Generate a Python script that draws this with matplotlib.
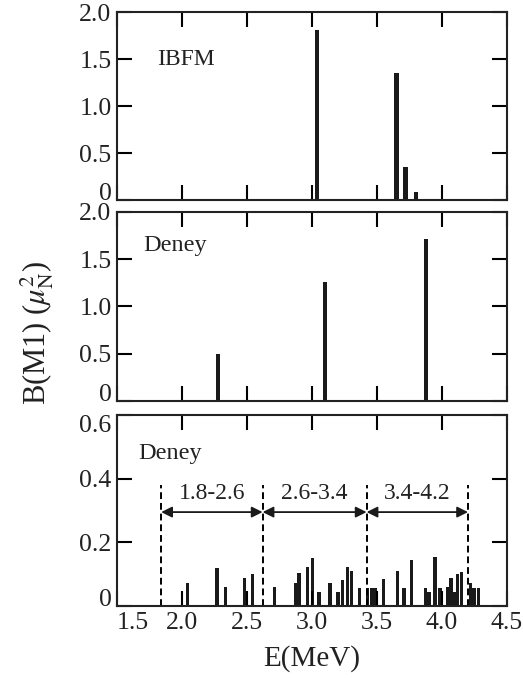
import numpy as np
import matplotlib
matplotlib.use('Agg')
import matplotlib.pyplot as plt

plt.rcParams['font.family'] = ['Liberation Serif', 'DejaVu Serif']
plt.rcParams['mathtext.fontset'] = 'stix'

# IBFM panel
ibfm_e = [3.04, 3.65, 3.72, 3.80]
ibfm_b = [1.81, 1.35, 0.35, 0.09]

# Deney panel (strong lines)
deney_e = [2.28, 3.10, 3.88]
deney_b = [0.50, 1.26, 1.71]

# Deney panel (fragmented strength)
frag_e = [2.044, 2.27, 2.333, 2.48, 2.544, 2.71, 2.875, 2.90, 2.964, 3.003,
          3.054, 3.138, 3.20, 3.233, 3.275, 3.305, 3.364, 3.428, 3.459, 3.485,
          3.548, 3.659, 3.708, 3.767, 3.872, 3.90, 3.946, 3.985, 4.044, 4.069,
          4.095, 4.118, 4.15, 4.22, 4.246, 4.28]
frag_b = [0.073, 0.120, 0.061, 0.087, 0.100, 0.061, 0.071, 0.103, 0.124, 0.152,
          0.045, 0.073, 0.045, 0.082, 0.123, 0.110, 0.056, 0.056, 0.056, 0.056,
          0.084, 0.110, 0.056, 0.143, 0.056, 0.045, 0.153, 0.056, 0.061, 0.087,
          0.045, 0.100, 0.108, 0.071, 0.056, 0.056]

bounds = [1.84, 2.62, 3.42, 4.20]
ranges = ['1.8-2.6', '2.6-3.4', '3.4-4.2']

xticks = [1.5, 2.0, 2.5, 3.0, 3.5, 4.0, 4.5]
xticklabels = ['1.5', '2.0', '2.5', '3.0', '3.5', '4.0', '4.5']
yticks_big = [0, 0.5, 1.0, 1.5, 2.0]
ylabels_big = ['0', '0.5', '1.0', '1.5', '2.0']
yticks_small = [0, 0.2, 0.4, 0.6]
ylabels_small = ['0', '0.2', '0.4', '0.6']

txt = '#222222'

fig = plt.figure(figsize=(5.23, 6.78), dpi=100)
ax1 = fig.add_axes([0.2237, 0.705, 0.7457, 0.2773])
ax2 = fig.add_axes([0.2237, 0.4086, 0.7457, 0.2788])
ax3 = fig.add_axes([0.2237, 0.1062, 0.7457, 0.2817])

for ax in (ax1, ax2, ax3):
    ax.set_xlim(1.5, 4.5)
    ax.set_xticks(xticks)
    ax.tick_params(direction='in', length=11, width=1.5, top=True, right=True,
                   labelsize=18.5, pad=4, labelcolor=txt)
    for s in ax.spines.values():
        s.set_linewidth(1.5)
        s.set_color('#222222')

for ax in (ax1, ax2):
    ax.set_ylim(0, 2.0)
    ax.set_yticks(yticks_big)
    ax.set_yticklabels(ylabels_big)
    ax.set_xticklabels([])

ax3.set_ylim(0, 0.6)
ax3.set_yticks(yticks_small)
ax3.set_yticklabels(ylabels_small)
ax3.set_xticklabels(xticklabels)

# keep the labels at the panel joins apart
for ax in (ax1, ax2, ax3):
    labs = ax.get_yticklabels()
    labs[0].set_verticalalignment('baseline')
ax3.get_yticklabels()[-1].set_verticalalignment('top')
ax3.get_xticklabels()[0].set_horizontalalignment('left')

ax1.bar(ibfm_e, ibfm_b, width=0.035, color='#1a1a1a')
ax1.text(1.81, 1.49, 'IBFM', fontsize=17, va='center', color=txt)

ax2.bar(deney_e, deney_b, width=0.032, color='#1a1a1a')
ax2.text(1.70, 1.64, 'Deney', fontsize=17.5, va='center', color=txt)

ax3.bar(frag_e, frag_b, width=0.025, color='#1a1a1a')
ax3.text(1.66, 0.48, 'Deney', fontsize=17.5, va='center', color=txt)

for b in bounds:
    ax3.plot([b, b], [0, 0.38], color='black', lw=1.4, linestyle=(0, (3.5, 2)))
for i, lab in enumerate(ranges):
    ax3.annotate('', xy=(bounds[i], 0.295), xytext=(bounds[i + 1], 0.295),
                 arrowprops=dict(arrowstyle='<|-|>', color='#1a1a1a', lw=1.3,
                                 mutation_scale=16, shrinkA=0, shrinkB=0))
    ax3.text((bounds[i] + bounds[i + 1]) / 2, 0.352, lab, fontsize=17,
             ha='center', va='center', color=txt)

ax3.set_xlabel('E(MeV)', fontsize=21, labelpad=8, color=txt)
fig.text(0.072, 0.509, r'B(M1) ($\mu_{\rm N}^{2}$)', fontsize=22, rotation=90,
         ha='center', va='center', color=txt)

fig.savefig('out.png', dpi=100)
